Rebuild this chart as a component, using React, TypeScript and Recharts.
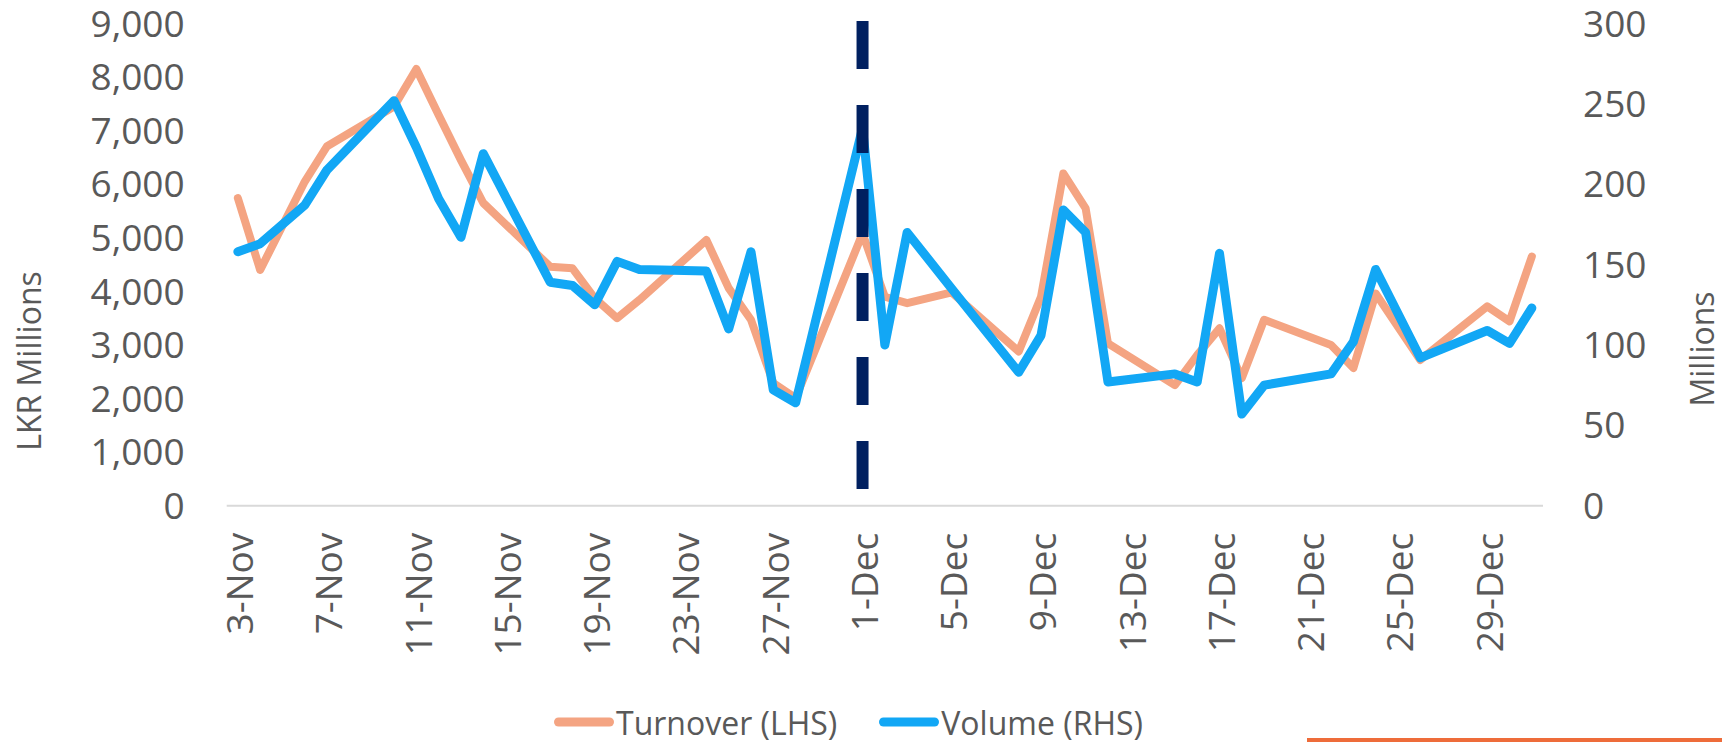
import { LineChart, Line, XAxis, YAxis, ReferenceLine } from 'recharts';

// CSE daily turnover / volume, Nov-Dec 2025 (trading days only)
const dates = [
  '2025-11-03', '2025-11-04', '2025-11-06', '2025-11-07', '2025-11-10', '2025-11-11',
  '2025-11-12', '2025-11-13', '2025-11-14', '2025-11-17', '2025-11-18', '2025-11-19',
  '2025-11-20', '2025-11-21', '2025-11-24', '2025-11-25', '2025-11-26', '2025-11-27',
  '2025-11-28', '2025-12-01', '2025-12-02', '2025-12-03', '2025-12-05', '2025-12-08',
  '2025-12-09', '2025-12-10', '2025-12-11', '2025-12-12', '2025-12-15', '2025-12-16',
  '2025-12-17', '2025-12-18', '2025-12-19', '2025-12-22', '2025-12-23', '2025-12-24',
  '2025-12-26', '2025-12-29', '2025-12-30', '2025-12-31',
];

// LKR millions
const turnover = [
  5740, 4400, 6050, 6710, 7450, 8150,
  7290, 6450, 5650, 4460, 4430, 3870,
  3500, 3840, 4960, 4060, 3470, 2290,
  2010, 5080, 3900, 3780, 3980, 2880,
  3900, 6200, 5550, 3030, 2250, 2810,
  3310, 2380, 3470, 3000, 2570, 3960,
  2720, 3720, 3440, 4650,
];

// shares, millions
const volume = [
  158, 163, 187, 209, 252, 223,
  191, 167, 219, 139, 137, 125,
  152, 147, 146, 110, 158, 72,
  64, 235, 100, 170, 135, 83,
  106, 184, 170, 77, 82, 77,
  157, 57, 75, 82, 102, 147,
  92, 109, 101, 123,
];

const tickDates = [
  '2025-11-03', '2025-11-07', '2025-11-11', '2025-11-15', '2025-11-19', '2025-11-23',
  '2025-11-27', '2025-12-01', '2025-12-05', '2025-12-09', '2025-12-13', '2025-12-17',
  '2025-12-21', '2025-12-25', '2025-12-29',
];
const markerDate = '2025-12-01';
const leftTicks = [0, 1000, 2000, 3000, 4000, 5000, 6000, 7000, 8000, 9000];
const rightTicks = [0, 50, 100, 150, 200, 250, 300];

const MONTHS = ['Jan', 'Feb', 'Mar', 'Apr', 'May', 'Jun', 'Jul', 'Aug', 'Sep', 'Oct', 'Nov', 'Dec'];
const DAY = 86400000;
const START = Date.parse(dates[0]);
const toDay = (s: string) => (Date.parse(s) - START) / DAY;
const lastDay = toDay(dates[dates.length - 1]);

const data = dates.map((d, i) => ({ day: toDay(d), turnover: turnover[i], volume: volume[i] }));

const ORANGE = '#F4A482';
const BLUE = '#12A7F5';
const NAVY = '#002060';
const TEXT = '#595959';
const FONT = '"Open Sans", sans-serif';

const series = [
  { key: 'turnover', name: 'Turnover (LHS)', color: ORANGE },
  { key: 'volume', name: 'Volume (RHS)', color: BLUE },
];

const DateTick = ({ x, y, payload }: any) => {
  const d = new Date(START + payload.value * DAY);
  const label = `${d.getUTCDate()}-${MONTHS[d.getUTCMonth()]}`;
  const cx = x + 2;
  return (
    <text
      x={cx}
      y={y}
      transform={`rotate(-90 ${cx} ${y})`}
      textAnchor="end"
      dy="0.36em"
      fill={TEXT}
      fontSize={37}
      fontFamily={FONT}
    >
      {label}
    </text>
  );
};

const AxisTitle = ({ cx, cy, text }: any) => (
  <text
    x={cx}
    y={cy}
    transform={`rotate(-90 ${cx} ${cy})`}
    textAnchor="middle"
    dominantBaseline="central"
    fill={TEXT}
    fontSize={32}
    fontFamily={FONT}
  >
    {text}
  </text>
);

const tickStyle = { fill: TEXT, fontSize: 37, fontFamily: FONT };

export default function App() {
  return (
    <div style={{ position: 'absolute', left: 0, top: 0, width: 1722, height: 742, background: '#fff' }}>
      <LineChart width={1722} height={742} data={data} margin={{ top: 23.5, right: 0, bottom: 0, left: 0 }}>
        <XAxis
          dataKey="day"
          type="number"
          domain={[-0.5, lastDay + 0.5]}
          ticks={tickDates.map(toDay)}
          interval={0}
          tick={<DateTick />}
          tickLine={false}
          tickSize={0}
          tickMargin={27}
          axisLine={{ stroke: '#D9D9D9', strokeWidth: 2 }}
          height={236.3}
        />
        <YAxis
          yAxisId="left"
          domain={[0, 9000]}
          ticks={leftTicks}
          interval={0}
          width={226.7}
          axisLine={false}
          tickLine={false}
          tickSize={0}
          tickMargin={42}
          tick={tickStyle}
          tickFormatter={(v: number) => v.toLocaleString('en-US')}
          label={<AxisTitle cx={28} cy={361} text="LKR Millions" />}
        />
        <YAxis
          yAxisId="right"
          orientation="right"
          domain={[0, 300]}
          ticks={rightTicks}
          interval={0}
          width={179}
          axisLine={false}
          tickLine={false}
          tickSize={0}
          tickMargin={40}
          tick={{ ...tickStyle, textAnchor: 'start' }}
          label={<AxisTitle cx={1701} cy={349} text="Millions" />}
        />
        <Line
          yAxisId="left"
          type="linear"
          dataKey="turnover"
          name="Turnover (LHS)"
          stroke={ORANGE}
          strokeWidth={8}
          strokeLinejoin="round"
          strokeLinecap="round"
          dot={false}
          activeDot={false}
          isAnimationActive={false}
        />
        <Line
          yAxisId="right"
          type="linear"
          dataKey="volume"
          name="Volume (RHS)"
          stroke={BLUE}
          strokeWidth={9}
          strokeLinejoin="round"
          strokeLinecap="round"
          dot={false}
          activeDot={false}
          isAnimationActive={false}
        />
        <ReferenceLine
          yAxisId="left"
          segment={[
            { x: toDay(markerDate), y: 9045 },
            { x: toDay(markerDate), y: 312 },
          ]}
          ifOverflow="visible"
          stroke={NAVY}
          strokeWidth={12}
          strokeDasharray="48 36"
        />
      </LineChart>

      <div
        style={{
          position: 'absolute',
          left: 554,
          top: 722,
          transform: 'translateY(-50%)',
          display: 'flex',
          alignItems: 'center',
          fontFamily: FONT,
          fontSize: 32,
          color: TEXT,
          whiteSpace: 'nowrap',
        }}
      >
        {series.map((s, i) => (
          <div key={s.key} style={{ display: 'flex', alignItems: 'center', marginLeft: i ? 42 : 0 }}>
            <span style={{ display: 'inline-block', width: 60, height: 9, borderRadius: 5, background: s.color }} />
            <span style={{ marginLeft: 2 }}>{s.name}</span>
          </div>
        ))}
      </div>

      <div style={{ position: 'absolute', left: 1307, top: 738, width: 415, height: 4, background: '#EE6C3A' }} />
    </div>
  );
}
